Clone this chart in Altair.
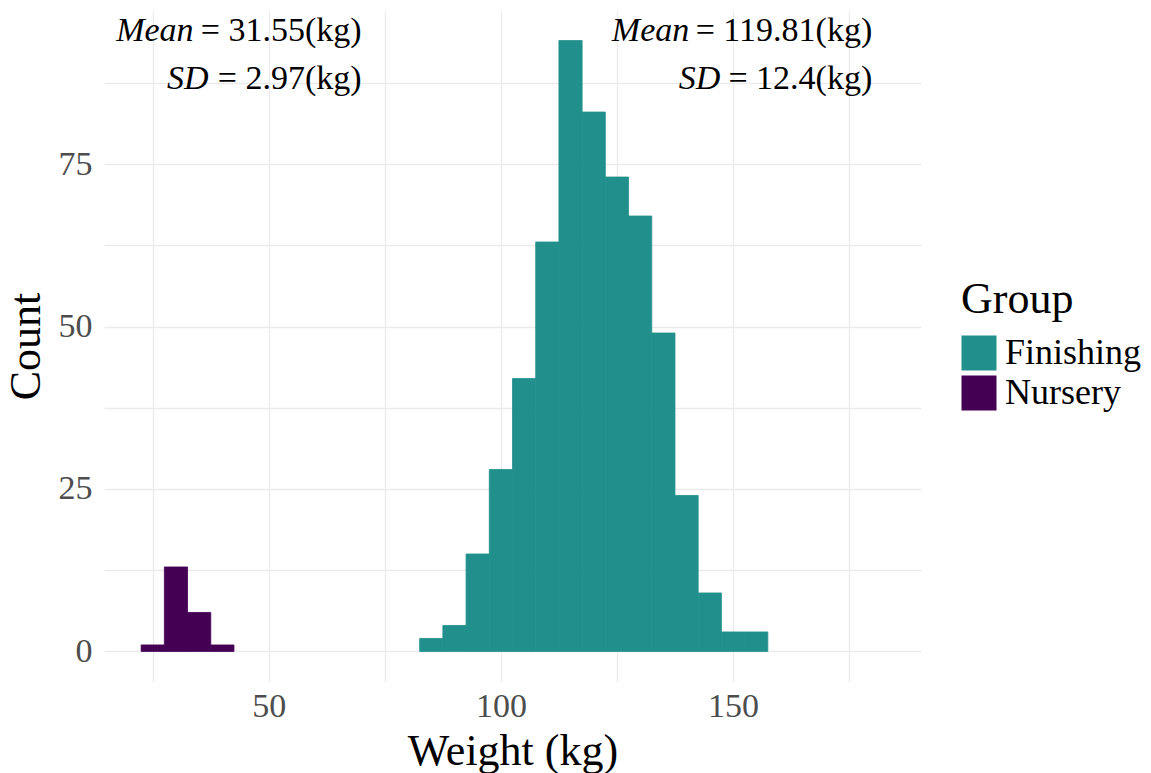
import altair as alt
import pandas as pd

# ---- data ----
finishing_centers = [85, 90, 95, 100, 105, 110, 115, 120, 125, 130, 135, 140, 145, 150, 155]
finishing_counts = [2, 4, 15, 28, 42, 63, 94, 83, 73, 67, 49, 24, 9, 3, 3]
nursery_centers = [25, 30, 35, 40]
nursery_counts = [1, 13, 6, 1]
bin_width = 5

groups = ["Finishing", "Nursery"]
group_colors = ["#21908C", "#440154"]

ann_x = [70, 70, 180, 180]
ann_y = [94.0, 86.6, 94.0, 86.6]
ann_italic = ["Mean", "SD", "Mean", "SD"]
ann_rest = ["= 31.55(kg)", "= 2.97(kg)", "= 119.81(kg)", "= 12.4(kg)"]
ann_shift = [-168, -153, -183, -152]

x_ticks = [25, 50, 75, 100, 125, 150, 175]
y_ticks = [0, 12.5, 25, 37.5, 50, 62.5, 75, 87.5]

FONT = "Liberation Serif"

rows = []
for c, n in zip(finishing_centers, finishing_counts):
    rows.append({"group": "Finishing", "center": c, "count": n})
for c, n in zip(nursery_centers, nursery_counts):
    rows.append({"group": "Nursery", "center": c, "count": n})
hist = pd.DataFrame(rows)

ann = pd.DataFrame({"x": ann_x, "y": ann_y, "it": ann_italic, "rest": ann_rest, "idx": range(4)})

xscale = alt.Scale(domain=[14.5, 190.5], nice=False, zero=False)
yscale = alt.Scale(domain=[-4.7, 98.7], nice=False, zero=False)
cscale = alt.Scale(domain=groups, range=group_colors)

bars = alt.Chart(hist).transform_calculate(
    x0=f"datum.center - {bin_width}/2",
    x1=f"datum.center + {bin_width}/2",
).mark_rect(strokeWidth=0.8).encode(
    x=alt.X("x0:Q", scale=xscale,
            axis=alt.Axis(values=x_ticks, title="Weight (kg)",
                          labelExpr="datum.value % 50 == 0 ? datum.label : ''")),
    x2="x1:Q",
    y=alt.Y("count:Q", scale=yscale,
            axis=alt.Axis(values=y_ticks, title="Count",
                          labelExpr="datum.value % 25 == 0 ? datum.label : ''")),
    y2=alt.datum(0),
    color=alt.Color("group:N", scale=cscale,
                    legend=alt.Legend(title="Group", orient="none",
                                      legendX=857, legendY=268)),
    stroke=alt.Stroke("group:N", scale=cscale, legend=None),
)

rest_text = alt.Chart(ann).mark_text(
    font=FONT, fontSize=34, align="right", baseline="alphabetic", color="black"
).encode(
    x=alt.X("x:Q", scale=xscale),
    y=alt.Y("y:Q", scale=yscale),
    text="rest:N",
)

layers = [bars, rest_text]
for i in range(4):
    layers.append(
        alt.Chart(ann).transform_filter(f"datum.idx == {i}").mark_text(
            font=FONT, fontSize=34, fontStyle="italic", align="right",
            baseline="alphabetic", color="black", dx=ann_shift[i]
        ).encode(
            x=alt.X("x:Q", scale=xscale),
            y=alt.Y("y:Q", scale=yscale),
            text="it:N",
        )
    )

chart = alt.layer(*layers).properties(
    width=817, height=672,
    autosize=alt.AutoSizeParams(type="none"),
    padding={"left": 104, "top": 10, "right": 230, "bottom": 91},
).configure_view(stroke=None).configure_axis(
    domain=False, ticks=False, tickSize=0,
    grid=True, gridColor="#EBEBEB", gridWidth=1.3,
    labelFont=FONT, labelFontSize=34, labelColor="#4D4D4D",
    titleFont=FONT, titleFontSize=44, titleColor="black", titleFontWeight="normal",
).configure_axisX(
    labelPadding=7, titlePadding=6,
).configure_axisY(
    labelPadding=12, titlePadding=10,
).configure_legend(
    titleFont=FONT, titleFontSize=44, titleFontWeight="normal", titleColor="black",
    labelFont=FONT, labelFontSize=36, labelColor="black",
    symbolType="square", symbolSize=1225, symbolStrokeWidth=0, symbolOpacity=1,
    rowPadding=4, labelOffset=8, titlePadding=13, labelLimit=400,
)

chart.save("out.html", embed_options={"renderer": "svg", "actions": False})
